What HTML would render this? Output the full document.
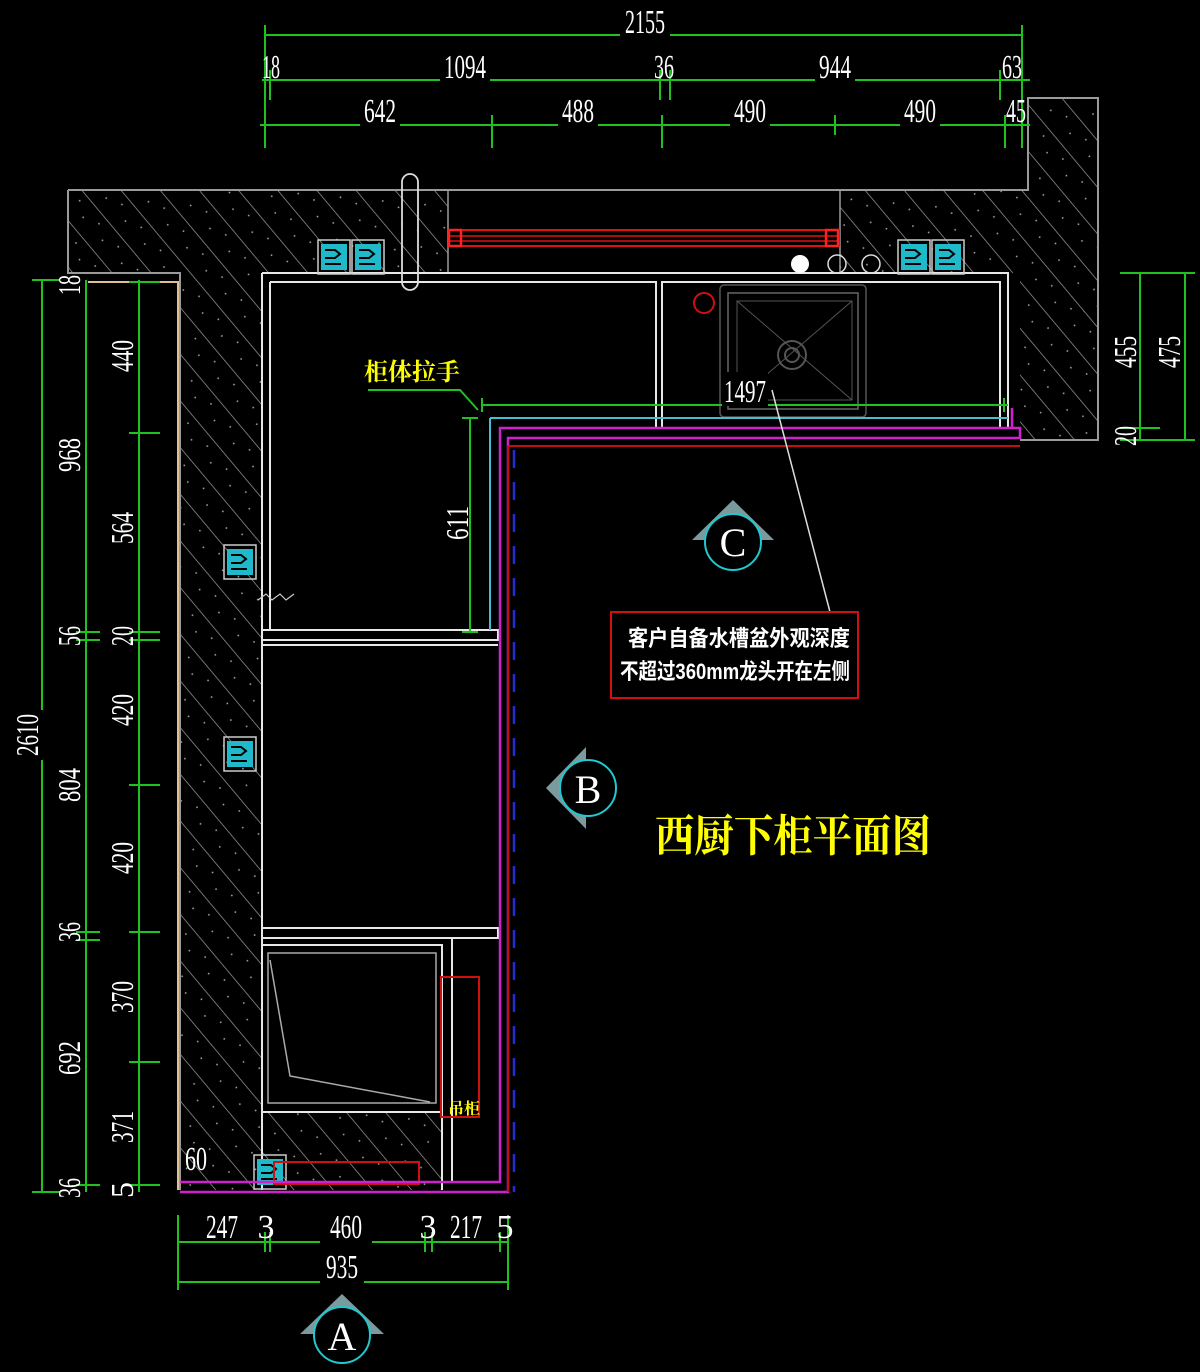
<!DOCTYPE html>
<html><head><meta charset="utf-8"><style>html,body{margin:0;padding:0;background:#000;}svg{display:block}</style></head><body>
<svg width="1200" height="1372" viewBox="0 0 1200 1372" xmlns="http://www.w3.org/2000/svg" font-family="'Liberation Serif','Noto Serif CJK SC',serif">
<defs>
<pattern id="h" width="30" height="30" patternUnits="userSpaceOnUse" patternTransform="rotate(-40)">
<rect width="30" height="30" fill="#000"/>
<line x1="0" y1="0" x2="0" y2="30" stroke="#a0a0a0" stroke-width="1.4"/>
<circle cx="14" cy="10" r="0.9" fill="#aaa"/><circle cx="22" cy="25" r="0.9" fill="#aaa"/>
</pattern>
<g id="sock"><rect x="0" y="0" width="32" height="34" fill="none" stroke="#ccc" stroke-width="1.5"/><rect x="3" y="4" width="26" height="26" fill="#1fb9c9"/><path d="M7 10h10l5 4-5 4H7M7 24h16" stroke="#000" stroke-width="2" fill="none"/></g>
</defs>
<rect width="1200" height="1372" fill="#000"/>
<path d="M68 190H1028V98H1098V440H1020V273H262V1190H180V273H68Z" fill="url(#h)"/>
<rect x="448" y="191" width="392" height="82" fill="#000"/>
<rect x="262" y="1112" width="180" height="78" fill="url(#h)"/>
<path d="M68 190H1028V98H1098V440H1020M68 190V273H180V1190" fill="none" stroke="#9a9a9a" stroke-width="2"/>
<path d="M448 191V273M840 191V273" stroke="#9a9a9a" stroke-width="1.5"/>
<rect x="449" y="230" width="390" height="16" fill="none" stroke="#e01010" stroke-width="2"/>
<line x1="449" y1="236" x2="839" y2="236" stroke="#e01010" stroke-width="1.5"/>
<line x1="449" y1="241" x2="839" y2="241" stroke="#e01010" stroke-width="1.5"/>
<rect x="449" y="230" width="12" height="16" fill="none" stroke="#ff2020" stroke-width="2.5"/>
<rect x="826" y="230" width="12" height="16" fill="none" stroke="#ff2020" stroke-width="2.5"/>
<path d="M88 282H178V1190" stroke="#e0c090" stroke-width="2" fill="none"/>
<g stroke="#e8e8e8" stroke-width="2" fill="none">
<path d="M262 273H1008V428"/>
<path d="M270 282V630M262 273V1190"/>
<path d="M270 282H656V428H662V282H668M662 282V428"/>
<path d="M668 282H1000V428H1008"/>
<path d="M262 630H498V640H262M262 645H498"/>
<path d="M262 928H498V938H262"/>
<path d="M262 945H442V1112H262"/>
<path d="M442 945V1182M452 938V1182M452 1182H498"/>
<path d="M426 1182H442V1190"/>
</g>
<rect x="268" y="953" width="168" height="150" fill="none" stroke="#aaa" stroke-width="1.5"/>
<path d="M270 960L290 1076L430 1102" stroke="#aaa" stroke-width="1.5" fill="none"/>
<rect x="720" y="285" width="146" height="132" rx="4" fill="none" stroke="#555" stroke-width="1.5"/>
<rect x="728" y="293" width="130" height="116" fill="none" stroke="#666" stroke-width="1.5"/>
<path d="M737 301L852 400M852 301L737 400M737 301H852V400H737Z" stroke="#555" stroke-width="1" fill="none"/>
<circle cx="792" cy="355" r="14" fill="none" stroke="#555" stroke-width="2"/><circle cx="792" cy="355" r="7" fill="none" stroke="#555" stroke-width="2"/>
<circle cx="704" cy="303" r="10" fill="none" stroke="#d01010" stroke-width="2"/>
<circle cx="800" cy="264" r="9" fill="#fff"/><circle cx="837" cy="264" r="9" fill="none" stroke="#ddd" stroke-width="1.5"/><circle cx="871" cy="264" r="9" fill="none" stroke="#ddd" stroke-width="1.5"/>
<rect x="402" y="174" width="16" height="116" rx="8" fill="none" stroke="#ddd" stroke-width="1.8"/>
<use href="#sock" x="318" y="240"/><use href="#sock" x="352" y="240"/>
<use href="#sock" x="898" y="240"/><use href="#sock" x="932" y="240"/>
<use href="#sock" x="224" y="545"/><use href="#sock" x="224" y="737"/>
<use href="#sock" x="254" y="1155"/>
<path d="M258 600l8-6 6 6 8-6 6 6 8-6" stroke="#ccc" fill="none" stroke-width="1.2"/>
<rect x="441" y="977" width="38" height="140" fill="none" stroke="#d01010" stroke-width="2"/>
<rect x="274" y="1162" width="145" height="22" fill="none" stroke="#d01010" stroke-width="2"/>
<text x="448" y="1114" fill="#ffff00" font-size="16" font-weight="bold">吊柜</text>
<path d="M180 1192H508V438H1020V428H500V1182H180" stroke="#d020d0" stroke-width="2.5" fill="none"/>
<path d="M1012 408V428" stroke="#d020d0" stroke-width="2.5"/>
<path d="M490 418H1008M490 418V630" stroke="#40c0d0" stroke-width="2"/>
<path d="M508 446V1192M508 446H1020" stroke="#c01010" stroke-width="2"/>
<path d="M514 450V1192" stroke="#2030d0" stroke-width="2.5" stroke-dasharray="18 14"/>
<path d="M368 390H460L478 410" stroke="#20c020" stroke-width="2" fill="none"/>
<text x="364" y="380" fill="#ffff00" font-size="24" font-weight="bold" textLength="96" lengthAdjust="spacingAndGlyphs">柜体拉手</text>
<path d="M482 405H1008M482 398V412M1004 398V412" stroke="#20c020" stroke-width="2"/>
<rect x="722" y="372" width="46" height="34" fill="#000"/>
<text x="724" y="402" fill="#fff" font-size="32" textLength="42" lengthAdjust="spacingAndGlyphs">1497</text>
<path d="M772 390L830 612" stroke="#ddd" stroke-width="1.5"/>
<path d="M470 418V632M462 418H478M462 632H478" stroke="#20c020" stroke-width="2"/>
<text transform="translate(468,540) rotate(-90)" fill="#fff" font-size="32" textLength="34" lengthAdjust="spacingAndGlyphs">611</text>
<rect x="611" y="612" width="247" height="86" fill="none" stroke="#d01010" stroke-width="2"/>
<text x="628" y="646" fill="#fff" font-size="22" font-weight="bold" font-family="'Liberation Sans','Noto Sans CJK SC',sans-serif" textLength="222" lengthAdjust="spacingAndGlyphs">客户自备水槽盆外观深度</text>
<text x="620" y="679" fill="#fff" font-size="22" font-weight="bold" font-family="'Liberation Sans','Noto Sans CJK SC',sans-serif" textLength="230" lengthAdjust="spacingAndGlyphs">不超过360mm龙头开在左侧</text>
<text x="655" y="851" fill="#ffff00" font-size="44" font-weight="bold" font-family="'Noto Serif CJK SC',serif" textLength="276" lengthAdjust="spacingAndGlyphs">西厨下柜平面图</text>
<g fill="#7a9a9e">
<path d="M692 540L733 500L774 540Z"/>
<path d="M586 747L546 788L586 829Z"/>
<path d="M300 1334L342 1294L384 1334Z"/>
</g>
<g stroke="#20c8d0" stroke-width="2" fill="#000">
<circle cx="733" cy="542" r="28"/><circle cx="588" cy="788" r="28"/><circle cx="342" cy="1335" r="28"/>
</g>
<g fill="#fff" font-size="40" text-anchor="middle">
<text x="733" y="556">C</text><text x="588" y="803">B</text><text x="342" y="1350">A</text>
</g>
<g stroke="#20c020" stroke-width="2" fill="none">
<path d="M265 35H1022M265 25V148M1022 25V148"/>
<path d="M262 80H1030M270 70V100M660 70V100M670 70V100M1000 70V100"/>
<path d="M260 125H1030M492 115V148M662 115V148M835 115V135M1005 115V148"/>
<path d="M42 280V1192M32 280H60M32 1192H60"/>
<path d="M86 280V1192M76 632H100M76 640H100M76 932H100M76 940H100M76 1185H100"/>
<path d="M139 280V1192M129 433H160M129 632H160M129 640H160M129 785H160M129 932H160M129 1062H160M129 1185H160M129 282H160"/>
<path d="M1140 273V440M1185 273V440M1120 273H1195M1120 428H1160M1120 440H1195"/>
<path d="M178 1242H508M178 1215V1290M265 1232V1252M270 1232V1252M425 1232V1252M432 1232V1252M500 1232V1252M508 1215V1290"/>
<path d="M178 1282H508"/>
</g>
<g fill="#fff" font-size="34" text-anchor="middle">
<rect x="620" y="5" width="50" height="34" fill="#000"/>
<text x="645" y="33" textLength="40" lengthAdjust="spacingAndGlyphs">2155</text>
<rect x="440" y="48" width="50" height="34" fill="#000"/><text x="465" y="78" textLength="42" lengthAdjust="spacingAndGlyphs">1094</text>
<text x="271" y="78" textLength="18" lengthAdjust="spacingAndGlyphs">18</text>
<text x="664" y="78" textLength="20" lengthAdjust="spacingAndGlyphs">36</text>
<rect x="815" y="48" width="40" height="34" fill="#000"/><text x="835" y="78" textLength="32" lengthAdjust="spacingAndGlyphs">944</text>
<text x="1012" y="78" textLength="20" lengthAdjust="spacingAndGlyphs">63</text>
<rect x="360" y="93" width="40" height="34" fill="#000"/><text x="380" y="122" textLength="32" lengthAdjust="spacingAndGlyphs">642</text>
<rect x="558" y="93" width="40" height="34" fill="#000"/><text x="578" y="122" textLength="32" lengthAdjust="spacingAndGlyphs">488</text>
<rect x="730" y="93" width="40" height="34" fill="#000"/><text x="750" y="122" textLength="32" lengthAdjust="spacingAndGlyphs">490</text>
<rect x="900" y="93" width="40" height="34" fill="#000"/><text x="920" y="122" textLength="32" lengthAdjust="spacingAndGlyphs">490</text>
<text x="1016" y="122" textLength="20" lengthAdjust="spacingAndGlyphs">45</text>
<rect x="320" y="1228" width="52" height="28" fill="#000"/>
<text x="222" y="1238" textLength="32" lengthAdjust="spacingAndGlyphs">247</text><text x="266" y="1238">3</text><text x="346" y="1238" textLength="32" lengthAdjust="spacingAndGlyphs">460</text>
<text x="428" y="1238">3</text><text x="466" y="1238" textLength="32" lengthAdjust="spacingAndGlyphs">217</text><text x="505" y="1238">5</text>
<rect x="320" y="1266" width="44" height="22" fill="#000"/>
<text x="342" y="1278" textLength="32" lengthAdjust="spacingAndGlyphs">935</text>
<text x="196" y="1170" textLength="22" lengthAdjust="spacingAndGlyphs">60</text>
</g>
<g fill="#fff" font-size="32" text-anchor="middle">
<rect x="18" y="710" width="28" height="50" fill="#000"/>
<text transform="translate(38,735) rotate(-90)" textLength="42" lengthAdjust="spacingAndGlyphs">2610</text>
<text transform="translate(80,285) rotate(-90)" textLength="20" lengthAdjust="spacingAndGlyphs">18</text>
<text transform="translate(80,455) rotate(-90)" textLength="34" lengthAdjust="spacingAndGlyphs">968</text>
<text transform="translate(80,636) rotate(-90)" textLength="20" lengthAdjust="spacingAndGlyphs">56</text>
<text transform="translate(80,785) rotate(-90)" textLength="34" lengthAdjust="spacingAndGlyphs">804</text>
<text transform="translate(80,932) rotate(-90)" textLength="20" lengthAdjust="spacingAndGlyphs">36</text>
<text transform="translate(80,1058) rotate(-90)" textLength="34" lengthAdjust="spacingAndGlyphs">692</text>
<text transform="translate(80,1188) rotate(-90)" textLength="20" lengthAdjust="spacingAndGlyphs">36</text>
<text transform="translate(133,356) rotate(-90)" textLength="32" lengthAdjust="spacingAndGlyphs">440</text>
<text transform="translate(133,528) rotate(-90)" textLength="32" lengthAdjust="spacingAndGlyphs">564</text>
<text transform="translate(133,636) rotate(-90)" textLength="20" lengthAdjust="spacingAndGlyphs">20</text>
<text transform="translate(133,710) rotate(-90)" textLength="32" lengthAdjust="spacingAndGlyphs">420</text>
<text transform="translate(133,858) rotate(-90)" textLength="32" lengthAdjust="spacingAndGlyphs">420</text>
<text transform="translate(133,997) rotate(-90)" textLength="32" lengthAdjust="spacingAndGlyphs">370</text>
<text transform="translate(133,1127) rotate(-90)" textLength="32" lengthAdjust="spacingAndGlyphs">371</text>
<text transform="translate(133,1190) rotate(-90)">5</text>
<text transform="translate(1136,352) rotate(-90)" textLength="32" lengthAdjust="spacingAndGlyphs">455</text>
<text transform="translate(1136,436) rotate(-90)" textLength="20" lengthAdjust="spacingAndGlyphs">20</text>
<text transform="translate(1180,352) rotate(-90)" textLength="32" lengthAdjust="spacingAndGlyphs">475</text>
</g>
</svg>
</body></html>
